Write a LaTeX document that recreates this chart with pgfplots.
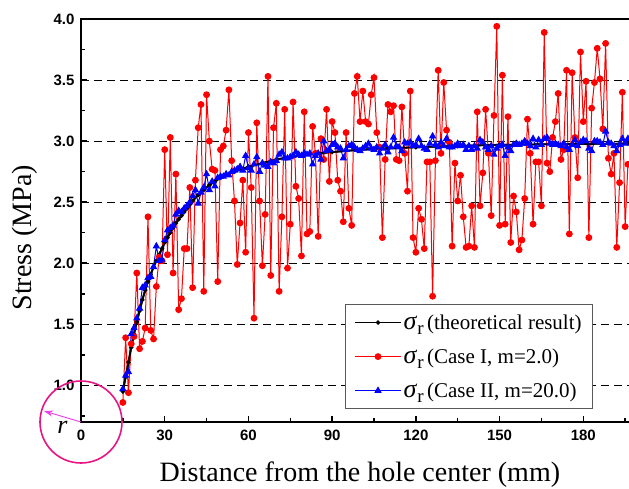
\documentclass[border=0pt]{standalone}
\usepackage{pgfplots}
\pgfplotsset{compat=1.18}
\usepackage{pgfplotstable}
\usepackage{fontspec}
\setmainfont{Liberation Serif}
\newfontfamily\arialfam{Liberation Sans}
\usetikzlibrary{arrows.meta}
\definecolor{ring}{RGB}{232,20,132}
\definecolor{arrc}{RGB}{235,60,235}

\pgfplotstableread{
x y
15 0.95
16 1.07
17 1.19
18 1.31
19 1.42
20 1.52
21 1.61
22 1.70
23 1.78
24 1.85
25 1.91
26 1.97
27 2.02
28 2.07
29 2.12
30 2.17
31 2.21
32 2.25
33 2.29
34 2.33
35 2.36
36 2.39
37 2.42
38 2.45
39 2.48
40 2.51
42 2.56
44 2.60
46 2.64
48 2.67
50 2.70
55 2.75
60 2.79
65 2.82
70 2.85
75 2.87
80 2.89
90 2.91
100 2.93
110 2.94
120 2.95
135 2.96
150 2.97
170 2.975
196 2.98
}\theory

\pgfplotstableread{
x y
15 0.86
16 1.39
17 0.94
18 1.34
19 1.40
20 1.92
21 1.30
22 1.36
23 1.47
24 2.38
25 1.45
26 1.38
27 1.81
28 2.05
29 2.02
30 2.93
31 2.07
32 3.03
33 1.92
34 2.73
35 1.62
36 1.71
37 2.12
38 2.12
39 2.62
40 1.80
41 2.68
42 3.11
43 3.30
44 1.77
45 3.38
46 3.00
47 2.77
48 2.76
49 1.85
50 2.93
51 2.96
52 3.09
53 3.42
54 2.84
55 2.51
56 1.99
57 2.33
58 2.68
59 2.09
60 3.07
61 2.62
62 1.55
63 3.15
64 2.51
65 1.98
66 2.40
67 3.53
68 1.90
69 3.11
70 3.31
71 1.77
72 2.38
73 3.26
74 1.96
75 2.32
76 3.32
77 2.63
78 2.53
79 2.06
80 3.24
81 2.24
82 2.26
83 3.12
84 2.90
85 2.22
86 3.02
87 2.85
88 3.26
89 2.67
90 3.16
91 3.07
92 2.68
93 2.59
94 2.34
95 3.07
96 2.45
97 2.31
98 3.39
99 3.53
100 3.16
101 3.41
102 3.16
103 3.14
104 3.38
105 3.52
106 3.07
107 2.95
108 2.21
109 2.85
110 3.30
111 3.24
112 3.29
113 2.85
114 2.84
115 3.28
116 2.90
117 2.59
118 3.41
119 2.21
120 2.09
121 2.45
122 2.36
123 2.12
124 2.83
125 2.83
126 1.73
127 2.84
128 3.58
129 2.90
130 3.48
131 3.09
132 2.99
133 2.14
134 2.82
135 2.51
136 2.72
137 2.38
138 2.13
139 2.14
140 2.47
141 2.13
142 3.24
143 2.47
144 2.74
145 3.26
146 2.90
147 2.39
148 3.21
149 3.94
150 2.31
151 3.54
152 2.32
153 3.20
154 2.17
155 2.55
156 2.42
157 2.11
158 2.19
159 2.53
160 3.18
161 2.90
162 2.32
163 2.83
164 2.83
165 2.47
166 3.89
167 2.82
168 2.75
169 3.03
170 3.16
171 3.39
172 2.85
173 2.93
174 3.58
175 2.24
176 3.56
177 3.03
178 2.70
179 3.73
180 3.16
181 3.49
182 2.21
183 3.27
184 3.48
185 3.76
186 3.51
187 3.10
188 3.80
189 2.86
190 2.73
191 2.90
192 2.13
193 2.66
194 3.40
195 2.30
196 2.81
}\caseone

\pgfplotstableread{
x y
15 0.97
16 1.08
17 1.11
18 1.42
19 1.47
20 1.55
21 1.63
22 1.80
23 1.82
24 1.88
25 1.89
26 1.97
27 2.14
28 2.02
29 2.03
30 2.19
31 2.27
32 2.29
33 2.31
34 2.40
35 2.43
36 2.42
37 2.45
38 2.47
39 2.50
40 2.55
41 2.60
42 2.49
43 2.58
44 2.62
45 2.73
46 2.60
47 2.67
48 2.63
49 2.70
50 2.71
51 2.71
52 2.73
53 2.72
54 2.75
55 2.76
56 2.77
57 2.79
58 2.76
59 2.88
60 2.78
61 2.76
62 2.81
63 2.87
64 2.75
65 2.82
66 2.80
67 2.79
68 2.83
69 2.82
70 2.84
71 2.89
72 2.91
73 2.86
74 2.86
75 2.87
76 2.88
77 2.91
78 2.89
79 2.88
80 2.90
81 2.89
82 2.90
83 2.81
84 2.88
85 2.90
86 2.85
87 3.00
88 2.92
89 2.93
90 2.97
91 2.98
92 2.95
93 2.94
94 2.86
95 2.93
96 2.96
97 2.97
98 2.95
99 2.93
100 2.92
101 2.94
102 2.96
103 2.98
104 2.94
105 2.93
106 2.95
107 2.90
108 2.94
109 2.97
110 2.91
111 2.95
112 3.03
113 2.96
114 2.95
115 2.92
116 2.99
117 2.98
118 2.99
119 2.96
120 2.97
121 3.02
122 2.96
123 2.94
124 2.93
125 2.98
126 3.04
127 2.97
128 2.95
129 2.99
130 2.96
131 3.02
132 2.95
133 2.95
134 2.96
135 2.98
136 2.96
137 2.97
138 2.93
139 2.96
140 2.93
141 2.96
142 2.94
143 3.01
144 2.99
145 2.95
146 2.93
147 2.96
148 2.89
149 2.94
150 2.96
151 2.97
152 2.88
153 2.95
154 2.92
155 2.97
156 2.98
157 2.97
158 2.98
159 3.00
160 2.98
161 2.96
162 3.02
163 2.95
164 3.01
165 2.97
166 3.02
167 3.03
168 2.98
169 2.97
170 2.98
171 2.97
172 2.96
173 2.98
174 2.95
175 2.93
176 2.97
177 3.01
178 2.96
179 2.99
180 3.01
181 3.00
182 2.94
183 2.92
184 3.00
185 3.00
186 2.99
187 2.97
188 3.08
189 2.99
190 2.98
191 2.96
192 2.92
193 2.97
194 3.02
195 2.98
196 3.02
}\casetwo

\begin{document}
\begin{tikzpicture}
\path[use as bounding box] (-81pt,-66pt) rectangle (548pt,422pt);
\begin{axis}[
  at={(0,0)}, anchor=south west,
  scale only axis, width=550pt, height=403pt,
  xmin=0, xmax=197.1, ymin=0.7, ymax=4.0,
  clip=false,
  separate axis lines,
  axis line style={line width=2.2pt, line cap=rect},
  xtick={0,30,60,90,120,150,180},
  ytick={1,1.5,2,2.5,3,3.5,4},
  minor xtick={15,45,75,105,135,165,195},
  minor ytick={0.75,1.25,1.75,2.25,2.75,3.25,3.75},
  xtick pos=left, ytick pos=left,
  tick align=inside,
  major tick length=6pt, minor tick length=4pt,
  every tick/.style={black, line width=1.5pt},
  /pgf/number format/assume math mode=true,
  ticklabel style={font=\arialfam\bfseries\fontsize{15}{15}\selectfont},
  yticklabel style={xshift=-3pt, /pgf/number format/fixed, /pgf/number format/fixed zerofill, /pgf/number format/precision=1},
  xticklabel style={yshift=-4pt},
  ymajorgrids,
  major grid style={black, line width=0.9pt, dash pattern=on 8pt off 5pt},
  xlabel={Distance from the hole center (mm)},
  ylabel={Stress (MPa)},
  label style={font=\fontsize{28}{30}\selectfont},
  xlabel style={at={(axis description cs:0.507,-0.148)}, anchor=base},
  ylabel style={at={(axis description cs:-0.073,0.457)}, anchor=south},
  legend style={at={(0.931,0.032)}, anchor=south east, draw=black!65, line width=0.8pt,
    font=\fontsize{21}{24}\selectfont, row sep=14pt, inner xsep=9pt, inner ysep=8pt},
  legend cell align=left,
  legend image code/.code={\draw[mark repeat=2,mark phase=2,#1] plot coordinates {(0cm,0cm) (0.8cm,0cm) (1.6cm,0cm)};},
]
\addplot[black, line width=1.8pt, mark=*, mark size=1.2pt, mark options={solid}] table {\theory};
\addlegendentry{{\fontsize{26}{26}\selectfont\textit{σ}}\raisebox{-0.6ex}{\fontsize{19}{19}\selectfont r}\,(theoretical result)}
\addplot[red, line width=1pt, mark=*, mark size=2.9pt, mark options={solid, fill=red}] table {\caseone};
\addlegendentry{{\fontsize{26}{26}\selectfont\textit{σ}}\raisebox{-0.6ex}{\fontsize{19}{19}\selectfont r}\,(Case I, m=2.0)}
\addplot[blue, line width=1pt, mark=triangle*, mark size=3.3pt, mark options={solid, fill=blue}] table {\casetwo};
\addlegendentry{{\fontsize{26}{26}\selectfont\textit{σ}}\raisebox{-0.6ex}{\fontsize{19}{19}\selectfont r}\,(Case II, m=20.0)}
\addplot[black, line width=1.8pt, forget plot] table {\theory};
\draw[ring, line width=1.6pt] (axis cs:0,0.7) circle[radius=41pt];
\draw[arrc, line width=0.9pt, -{Stealth[length=9pt,width=6pt]}] (axis cs:0,0.7) -- ++(-37pt,11pt);
\node[font=\itshape\fontsize{26}{26}\selectfont] at ([shift={(-18.5pt,-5pt)}]axis cs:0,0.7) {r};
\end{axis}
\end{tikzpicture}
\end{document}
